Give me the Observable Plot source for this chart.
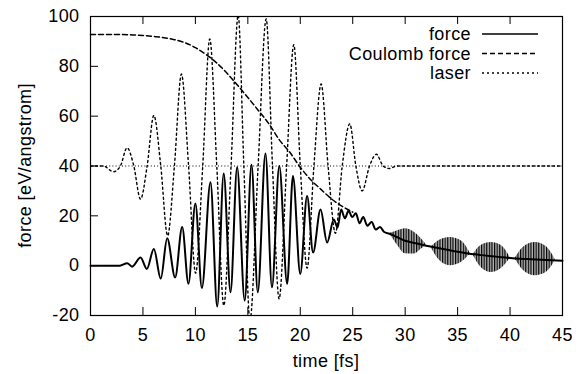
<!DOCTYPE html>
<html><head><meta charset="utf-8">
<script src="https://cdn.jsdelivr.net/npm/d3@7"></script>
<script src="https://cdn.jsdelivr.net/npm/@observablehq/plot@0.6"></script>
<style>
body{margin:0;background:#fff}
svg text{letter-spacing:0.4px}
</style>
</head><body><div id="chart"></div>
<script>
// ---- data ----
const xTicks = [0, 5, 10, 15, 20, 25, 30, 35, 40, 45];
const yTicks = [-20, 0, 20, 40, 60, 80, 100];
const seriesNames = ["force", "Coulomb force", "laser"];

const forceT = [0, 2.8, 3.5, 3.97, 4.77, 5.37, 6.04, 6.7, 7.31, 8.07, 8.74, 9.34, 10.0, 10.62, 11.44, 12.08, 12.7, 13.35, 13.98, 14.7, 15.35, 15.95, 16.68, 17.3, 18.0, 18.75, 19.3, 20.0, 20.65, 21.22, 21.93, 22.56, 23.2, 23.55, 23.9, 24.25, 24.6, 24.95, 25.3, 25.65, 26.0, 26.4, 26.8, 27.2, 27.6, 28.0, 28.5, 29.2, 30, 31, 32, 33, 34, 35, 36, 37, 38, 39, 40, 41, 42, 43, 44, 45];
const forceV = [0, 0, 1, -0.4, 3.3, -1.3, 6.7, -5.2, 11, -4.7, 15.5, -7.3, 25, -9, 33.5, -16.4, 37, -10.7, 39.5, -14, 40.5, -10.7, 45, -8.7, 40, -7.3, 36, -3.3, 28, 5.3, 22.5, 9.3, 18.5, 15.3, 22.5, 19, 22, 19.5, 21, 17, 19.5, 16, 17.5, 14.5, 15.5, 13.5, 12.8, 11.5, 10, 9, 8, 7.2, 6.4, 5.6, 4.9, 4.4, 3.9, 3.5, 3.1, 2.8, 2.6, 2.4, 2.2, 2];

const coulombT = [0, 2, 4, 5, 6, 7, 8, 9, 10, 11, 12, 13, 14, 15, 16, 17, 18, 19, 20, 21, 22, 23, 24, 25];
const coulombV = [92.8, 92.8, 92.6, 92.4, 92.0, 91.5, 90.7, 89.5, 87.5, 84.8, 81.5, 77.3, 72.5, 67.5, 62.3, 57, 50.5, 45.5, 39.5, 34.5, 30.5, 26.7, 23.8, 21.5];

const laserT = [0, 1.2, 2.2, 2.85, 3.49, 4.13, 4.77, 5.4, 6.04, 6.7, 7.35, 8.0, 8.67, 9.35, 10.02, 10.7, 11.37, 12.04, 12.71, 13.4, 14.08, 14.62, 15.2, 15.98, 16.75, 17.35, 17.98, 18.7, 19.38, 20.0, 20.65, 21.3, 21.99, 22.65, 23.35, 24.0, 24.72, 25.3, 25.9, 26.6, 27.26, 27.9, 28.5, 29.2, 45];
const laserV = [40, 40, 37.7, 40, 47.3, 40, 26.7, 40, 60.3, 40, 12, 40, 76.9, 40, -3, 40, 91, 40, -16, 40, 100.5, 40, -22, 40, 99, 40, -13.3, 40, 88.7, 40, -1, 40, 72.9, 40, 13, 40, 56.9, 40, 30, 40, 44.7, 40, 39, 40, 40];
const laserBaseline = [40];

// fast-oscillation packets of the force after the pulse: envelope (low / high)
const beatPacket = [1, 1, 1, 1, 1, 1, 2, 2, 2, 2, 2, 3, 3, 3, 3, 3, 4, 4, 4, 4, 4];
const beatT  = [28.6, 29.3, 30.0, 30.9, 31.5, 32.0, 32.5, 33.2, 34.3, 35.4, 36.2, 36.5, 37.2, 38.2, 39.2, 40.0, 40.5, 41.3, 42.4, 43.5, 44.3];
const beatHi = [13, 14, 14.8, 13.3, 11, 8.5, 7.5, 10, 11.3, 9.8, 5, 4.5, 8, 9.3, 8, 3.3, 3.0, 7.5, 9.3, 7.5, 2.5];
const beatLo = [12.4, 8, 4.8, 4.7, 6.5, 8.1, 7.1, 2.5, 0, 1.5, 4.6, 4.1, -0.5, -2.7, -1, 2.9, 2.6, -2, -4, -2.5, 2.0];

// ---- chart ----
const W = 579, H = 374, mL = 90, mR = 17, mT = 16, mB = 59;
const plotW = W - mL - mR, plotH = H - mT - mB;
const rows = (ts, vs) => ts.map((t, i) => ({t, v: vs[i]}));
const forceData = rows(forceT, forceV);
const coulombData = rows(coulombT, coulombV);
const laserData = rows(laserT, laserV);
const beatData = beatT.map((t, i) => ({t, lo: beatLo[i], hi: beatHi[i], p: beatPacket[i]}));
const fmt = d => String(d);

const svg = Plot.plot({
  width: W, height: H,
  marginLeft: mL, marginRight: mR, marginTop: mT, marginBottom: mB,
  style: {fontFamily: "'Liberation Sans', Arial, Helvetica, sans-serif", fontSize: "18px", background: "white", color: "black"},
  x: {domain: [0, 45]},
  y: {domain: [-20, 100]},
  marks: [
    Plot.ruleY(laserBaseline, {stroke: "black", strokeWidth: 1, strokeDasharray: "1,2.2"}),
    Plot.areaY(beatData, {x: "t", y1: "lo", y2: "hi", z: "p", curve: "monotone-x", fill: "black"}),
    Plot.line(laserData, {x: "t", y: "v", curve: "monotone-x", stroke: "black", strokeWidth: 1.4, strokeDasharray: "2,3", clip: true}),
    Plot.line(coulombData, {x: "t", y: "v", curve: "monotone-x", stroke: "black", strokeWidth: 1.5, strokeDasharray: "5,3"}),
    Plot.line(forceData, {x: "t", y: "v", curve: "monotone-x", stroke: "black", strokeWidth: 2}),
    Plot.ruleX(xTicks, {stroke: "black", insetTop: plotH - 8}),
    Plot.ruleX(xTicks, {stroke: "black", insetBottom: plotH - 8}),
    Plot.ruleY(yTicks, {stroke: "black", insetRight: plotW - 8}),
    Plot.frame({stroke: "black", strokeWidth: 1.2}),
    Plot.axisX({ticks: xTicks, tickSize: 0, tickPadding: 13, label: null, fontSize: 18, tickFormat: fmt}),
    Plot.axisY({ticks: yTicks, tickSize: 0, tickPadding: 11, label: null, fontSize: 18, tickFormat: fmt})
  ]
});

const s = d3.select(svg);
const pat = s.insert("defs", ":first-child").append("pattern")
  .attr("id", "stripes").attr("patternUnits", "userSpaceOnUse")
  .attr("width", 2.6).attr("height", 10);
pat.append("rect").attr("width", 2.6).attr("height", 10).attr("fill", "#b4b4b4");
pat.append("rect").attr("width", 1.2).attr("height", 10).attr("fill", "black");
s.selectAll('g[aria-label="area"]').attr("fill", "url(#stripes)");

// axis titles
s.append("text").attr("transform", `translate(30.5,${mT + plotH / 2}) rotate(-90)`)
  .attr("text-anchor", "middle").attr("fill", "black").attr("font-size", 18)
  .text("force [eV/angstrom]");
s.append("text").attr("x", mL + plotW / 2).attr("y", 367)
  .attr("text-anchor", "middle").attr("fill", "black").attr("font-size", 18)
  .text("time [fs]");

// legend
const dashes = [null, "5,3", "2,3"];
const leg = s.append("g").attr("font-size", 18).attr("fill", "black");
seriesNames.forEach((name, i) => {
  const base = 40 + i * 19.5;
  leg.append("text").attr("x", 471).attr("y", base).attr("text-anchor", "end").text(name);
  leg.append("line").attr("x1", 482).attr("x2", 538).attr("y1", base - 6).attr("y2", base - 6)
    .attr("stroke", "black").attr("stroke-width", i === 0 ? 1.5 : 1.3)
    .attr("stroke-dasharray", dashes[i]);
});

document.getElementById("chart").appendChild(svg);
</script>
</body></html>
